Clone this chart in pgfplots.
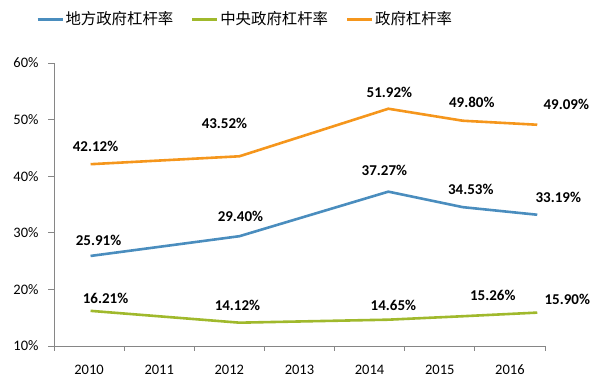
\documentclass[border=0pt]{standalone}
\usepackage{pgfplots}
\pgfplotsset{compat=1.18}
\usepackage{pgfplotstable}
\usepackage{fontspec}
\setmainfont{Carlito}
\newfontfamily\cjk{Noto Sans CJK SC}
\definecolor{cblue}{HTML}{4A8DBE}
\definecolor{cgreen}{HTML}{A0B92C}
\definecolor{corange}{HTML}{F5961C}
\definecolor{axgray}{HTML}{868686}

\pgfplotstableread{
x y dx dy
2010 25.91 8 16
2012 29.40 1 20
2014 37.27 -4 21
2015 34.53 8 18
2016 33.19 21 17
}\local
\pgfplotstableread{
x y dx dy
2010 16.21 15 12
2012 14.12 -2 17.7
2014 14.65 5 14
2015 15.26 30 21
2016 15.90 30 13.6
}\central
\pgfplotstableread{
x y dx dy
2010 42.12 5 17.7
2012 43.52 -15 33
2014 51.92 1 16.7
2015 49.80 9 18
2016 49.09 29 20
}\govt

\pgfplotsset{lbl/.style={
  nodes near coords={\pgfmathprintnumber[assume math mode=true,fixed,fixed zerofill,precision=2]{\pgfplotspointmeta}\%},
  point meta=y,
  visualization depends on={\thisrow{dx} \as \dx},
  visualization depends on={\thisrow{dy} \as \dy},
  nodes near coords style={font=\fontsize{15}{15}\selectfont\bfseries, text=black, anchor=center, xshift=\dx pt, yshift=\dy pt},
}}

\begin{document}
\begin{tikzpicture}
\useasboundingbox (0,0) rectangle (611pt,383pt);
\begin{axis}[
  at={(54pt,37pt)}, anchor=south west,
  scale only axis, width=491pt, height=283pt,
  xmin=2009.509, xmax=2016.104,
  ymin=10, ymax=60,
  axis x line*=bottom, axis y line*=left,
  axis line style={axgray, line width=0.9pt},
  tick align=outside,
  xtick={2009.980,2010.922,2011.864,2012.806,2013.748,2014.691,2015.633},
  xticklabels={2010,2011,2012,2013,2014,2015,2016},
  major x tick style={draw=none},
  minor xtick={2009.509,2010.451,2011.393,2012.335,2013.277,2014.220,2015.162,2016.104},
  minor tick length=5pt,
  minor x tick style={axgray, line width=0.9pt},
  ytick={10,20,30,40,50,60},
  major tick length=6pt,
  y tick style={axgray, line width=0.9pt},
  yticklabel={\pgfmathprintnumber{\tick}\%},
  y tick label style={font=\fontsize{14.5}{14.5}\selectfont, xshift=-6pt, /pgf/number format/assume math mode=true},
  x tick label style={font=\fontsize{14.5}{14.5}\selectfont, anchor=north, text height=10pt, text depth=0pt, yshift=-9pt},
  legend columns=3,
  legend style={at={(-0.037,1.155)}, anchor=west, draw=none, fill=none,
    font=\fontsize{15.4}{15.4}\selectfont\cjk, inner sep=0pt,
    /tikz/every even column/.append style={column sep=16pt},
    nodes={inner sep=1.5pt}},
  legend image code/.code={\draw[#1, line width=3pt] (0pt,0pt) -- (25pt,0pt);},
  every axis plot/.append style={line width=2.6pt, line join=round, no marks},
]
\addplot[cblue, lbl] table[x=x,y=y] {\local};
\addlegendentry{地方政府杠杆率}
\addplot[cgreen, lbl] table[x=x,y=y] {\central};
\addlegendentry{中央政府杠杆率}
\addplot[corange, lbl] table[x=x,y=y] {\govt};
\addlegendentry{政府杠杆率}
\end{axis}
\end{tikzpicture}
\end{document}
